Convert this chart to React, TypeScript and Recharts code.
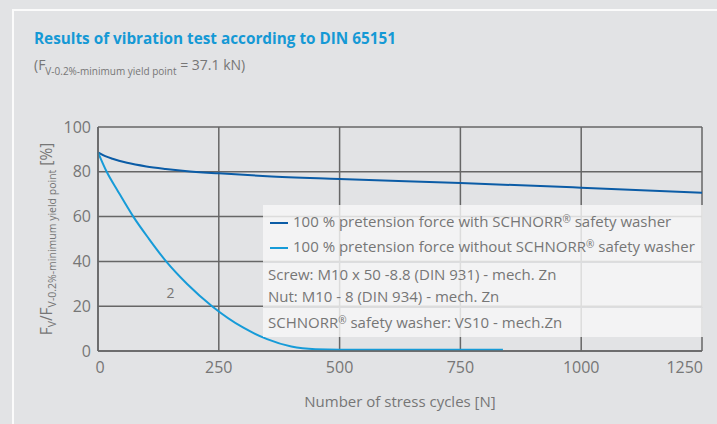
import React from 'react';
import { LineChart, Line, XAxis, YAxis, CartesianGrid, Legend, ReferenceDot } from 'recharts';

// with SCHNORR washer: [cycles, % of yield point]
const withWasherX = [0, 15, 30, 60, 100, 140, 180, 250, 350, 500, 750, 1000, 1250];
const withWasherY = [88.7, 87.0, 85.8, 84.0, 82.4, 81.3, 80.4, 79.3, 78.0, 76.8, 75.0, 72.9, 70.7];

// without SCHNORR washer
const withoutWasherX = [0, 18, 40, 73, 105, 141, 185, 236, 300, 350, 400, 450, 500, 600, 700, 838];
const withoutWasherY = [88.7, 80, 71.8, 60, 50.2, 40, 29.8, 20, 10.5, 5.3, 2, 0.8, 0.6, 0.6, 0.6, 0.6];

const xTicks = [0, 250, 500, 750, 1000, 1250];
const yTicks = [0, 20, 40, 60, 80, 100];

const seriesNames = [
  '100 % pretension force with SCHNORR® safety washer',
  '100 % pretension force without SCHNORR® safety washer',
];
const specLines = [
  ['Screw: M10 x 50 -8.8 (DIN 931) - mech. Zn', 'Nut: M10 - 8 (DIN 934) - mech. Zn'],
  ['SCHNORR® safety washer: VS10 - mech.Zn'],
];

const DARK = '#0b5ca6';
const LIGHT = '#169bd8';
const GRID = '#666';
const TEXT = '#767676';
const FONT = '"Open Sans", sans-serif';

const withData = withWasherX.map((x, i) => ({ x, y: withWasherY[i] }));
const withoutData = withoutWasherX.map((x, i) => ({ x, y: withoutWasherY[i] }));

// small raised registered mark, like the reference
function Reg({ text }: { text: string }) {
  const parts = text.split('®');
  return (
    <>
      {parts.map((p, i) => (
        <React.Fragment key={i}>
          {p}
          {i < parts.length - 1 && (
            <span style={{ fontSize: 10, position: 'relative', top: -4 }}>®</span>
          )}
        </React.Fragment>
      ))}
    </>
  );
}

function XTick(props: any) {
  const { x, y, payload } = props;
  const last = payload.value === xTicks[xTicks.length - 1];
  return (
    <text
      x={last ? x + 2 : x + (payload.value === 0 ? 2 : 0)}
      y={y}
      dy="0.71em"
      textAnchor={last ? 'end' : 'middle'}
      fill={TEXT}
      fontSize={16}
      fontFamily={FONT}
    >
      {payload.value}
    </text>
  );
}

function YLabel(props: any) {
  const vb = props.viewBox || { x: 38, y: 127, height: 224 };
  const cx = vb.x + 14;
  const cy = vb.y + vb.height / 2;
  return (
    <text
      x={cx}
      y={cy}
      transform={`rotate(-90 ${cx} ${cy})`}
      textAnchor="middle"
      fill={TEXT}
      fontFamily={FONT}
      fontSize={15.5}
    >
      <tspan>F</tspan>
      <tspan fontSize={10.5} dy={4}>V</tspan>
      <tspan dy={-4}>/F</tspan>
      <tspan fontSize={10.5} dy={4}>V-0.2%-minimum yield point</tspan>
      <tspan dy={-4}> [%]</tspan>
    </text>
  );
}

function LegendBox(props: any) {
  const payload = props.payload || [];
  const rowStyle = { height: 25, lineHeight: '25px', whiteSpace: 'nowrap' as const };
  return (
    <div
      style={{
        width: 440,
        background: 'rgba(246,247,247,0.82)',
        fontFamily: FONT,
        fontSize: 15,
        color: TEXT,
        textAlign: 'left',
      }}
    >
      <div style={{ padding: '5px 0 2px 7px', borderBottom: '1px solid #dcdddf' }}>
        {payload.map((p: any, i: number) => (
          <div key={i} style={{ ...rowStyle, display: 'flex', alignItems: 'center' }}>
            <span style={{ display: 'inline-block', width: 18, height: 2, background: p.color, marginRight: 5 }} />
            <span><Reg text={p.value} /></span>
          </div>
        ))}
      </div>
      <div style={{ height: 44, padding: '0 0 0 5px', borderBottom: '1px solid #dcdddf' }}>
        {specLines[0].map((s, i) => (
          <div key={i} style={{ height: 22, lineHeight: '22px', whiteSpace: 'nowrap' }}>{s}</div>
        ))}
      </div>
      <div style={{ height: 29, lineHeight: '29px', padding: '0 0 0 5px', whiteSpace: 'nowrap' }}>
        <Reg text={specLines[1][0]} />
      </div>
    </div>
  );
}

export default function App() {
  return (
    <div style={{ position: 'absolute', left: 0, top: 0, width: 717, height: 424, background: '#e2e3e5', overflow: 'hidden' }}>
      <div
        style={{
          position: 'absolute',
          left: 12,
          top: 9,
          width: 720,
          height: 430,
          borderTop: '2px solid #fbfbfb',
          borderLeft: '2px solid #fbfbfb',
        }}
      />
      <div
        style={{
          position: 'absolute',
          left: 34,
          top: 28,
          fontFamily: FONT,
          fontWeight: 700,
          fontSize: 15.3,
          color: '#1599d5',
          whiteSpace: 'nowrap',
        }}
      >
        Results of vibration test according to DIN 65151
      </div>
      <div
        style={{
          position: 'absolute',
          left: 34,
          top: 55,
          fontFamily: FONT,
          fontSize: 14,
          color: TEXT,
          whiteSpace: 'nowrap',
        }}
      >
        (F<sub style={{ fontSize: 10, verticalAlign: -5 }}>V-0.2%-minimum yield point</sub> = 37.1 kN)
      </div>
      <div style={{ position: 'absolute', left: 0, top: 0 }}>
        <LineChart width={717} height={424} margin={{ top: 127, right: 15, bottom: 13, left: 38 }}>
          <CartesianGrid stroke={GRID} strokeWidth={1.5} />
          <XAxis
            type="number"
            dataKey="x"
            domain={[0, 1250]}
            ticks={xTicks}
            height={60}
            axisLine={{ stroke: GRID, strokeWidth: 1.5 }}
            tickLine={false}
            tickSize={9}
            tickMargin={2}
            tick={<XTick />}
            label={{ value: 'Number of stress cycles [N]', position: 'insideBottom', offset: 4, fill: TEXT, fontSize: 15, fontFamily: FONT }}
          />
          <YAxis
            type="number"
            domain={[0, 100]}
            ticks={yTicks}
            width={60}
            axisLine={{ stroke: GRID, strokeWidth: 1.5 }}
            tickLine={false}
            tickSize={5}
            tickMargin={2}
            tick={{ fill: TEXT, fontSize: 16, fontFamily: FONT }}
            label={<YLabel />}
          />
          <Legend
            layout="vertical"
            align="center"
            verticalAlign="middle"
            content={<LegendBox />}
            wrapperStyle={{ position: 'absolute', left: 263, top: 205, width: 440 }}
          />
          <Line
            data={withData}
            dataKey="y"
            name={seriesNames[0]}
            type="monotone"
            stroke={DARK}
            strokeWidth={2}
            dot={false}
            isAnimationActive={false}
          />
          <Line
            data={withoutData}
            dataKey="y"
            name={seriesNames[1]}
            type="monotone"
            stroke={LIGHT}
            strokeWidth={2}
            dot={false}
            isAnimationActive={false}
          />
          <ReferenceDot
            x={150}
            y={26}
            r={0}
            stroke="none"
            label={{ value: '2', fill: TEXT, fontSize: 14, fontFamily: FONT, position: 'center' }}
          />
        </LineChart>
      </div>
    </div>
  );
}
